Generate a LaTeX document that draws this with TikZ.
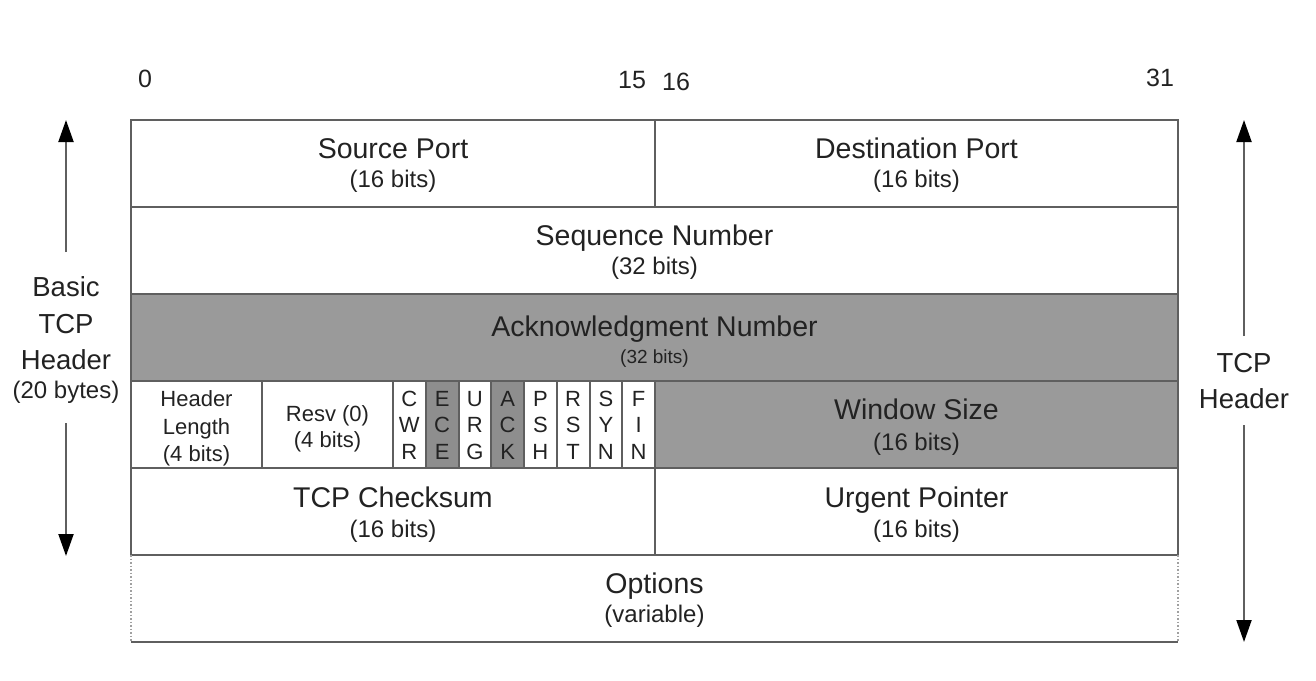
\documentclass[tikz,border=0pt]{standalone}
\usepackage{fontspec}
\setmainfont{Liberation Sans}
\usetikzlibrary{arrows.meta}
\definecolor{linec}{RGB}{95,95,95}
\definecolor{dotc}{RGB}{160,160,160}
\definecolor{fillc}{RGB}{154,154,154}
\definecolor{flagc}{RGB}{142,142,142}
\definecolor{txt}{RGB}{34,34,34}
\tikzset{
  grid/.style={draw=linec, line width=2pt},
  dotgrid/.style={draw=dotc, line width=1.5pt, dotted},
  big/.style={font=\fontsize{28.5}{34}\selectfont, text=txt, inner sep=0pt, anchor=base},
  sub/.style={font=\fontsize{24}{28}\selectfont, text=txt, inner sep=0pt, anchor=base},
  tinysub/.style={font=\fontsize{19}{22}\selectfont, text=txt, inner sep=0pt, anchor=base},
  small/.style={font=\fontsize{22}{26}\selectfont, text=txt, inner sep=0pt, anchor=base},
  side/.style={font=\fontsize{27.5}{32}\selectfont, text=txt, inner sep=0pt, anchor=base},
  num/.style={font=\fontsize{25}{30}\selectfont, text=txt, inner sep=0pt, anchor=base},
  arr/.style={draw=linec, line width=2pt, -{Triangle[length=22pt,width=15pt,color=black]}}
}
\begin{document}
\begin{tikzpicture}[x=1pt,y=-1pt]
\useasboundingbox (0,0) rectangle (1316,680);
% fills
\fill[fillc] (131,294) rectangle (1178,381);
\fill[fillc] (655,381) rectangle (1178,468);
\fill[flagc] (425.75,381) rectangle (458.5,468);
\fill[flagc] (491.25,381) rectangle (524,468);
% grid
\draw[grid] (131,120) rectangle (1178,555);
\foreach \yy in {207,294,381,468} \draw[grid] (131,\yy) -- (1178,\yy);
\draw[grid] (655,120) -- (655,207);
\draw[grid] (655,381) -- (655,555);
\draw[grid] (262,381) -- (262,468);
\foreach \k in {0,...,7} \draw[grid] ({393+32.75*\k},381) -- ({393+32.75*\k},468);
% options
\draw[dotgrid] (131,555) -- (131,642);
\draw[dotgrid] (1178,555) -- (1178,642);
\draw[grid] (131,642) -- (1178,642);
% bit numbers
\node[num] (n0) at (145,87) {0};
\node[num] (n15) at (632,88) {15};
\node[num] (n16) at (676,90) {16};
\node[num] (n31) at (1160,86) {31};
% row texts
\node[big] (sp) at (393,158.5) {Source Port};
\node[sub] (sps) at (393,187) {(16 bits)};
\node[big] (dp) at (916.5,158.5) {Destination Port};
\node[sub] (dps) at (916.5,187) {(16 bits)};
\node[big] (sn) at (654.5,245.5) {Sequence Number};
\node[sub] (sns) at (654.5,274) {(32 bits)};
\node[big] (an) at (654.5,336) {Acknowledgment Number};
\node[tinysub] (ans) at (654.5,363) {(32 bits)};
\node[small] (hl1) at (196.5,406.5) {Header};
\node[small] (hl2) at (196.5,434.5) {Length};
\node[small] (hl3) at (196.5,461) {(4 bits)};
\node[small] (rv1) at (327.5,421.5) {Resv (0)};
\node[small] (rv2) at (327.5,447) {(4 bits)};
\foreach \k/\a/\b/\c in {0/C/W/R,1/E/C/E,2/U/R/G,3/A/C/K,4/P/S/H,5/R/S/T,6/S/Y/N,7/F/I/N}{
  \node[small] (fa\k) at ({409.375+32.75*\k},406) {\a};
  \node[small] (fb\k) at ({409.375+32.75*\k},432.5) {\b};
  \node[small] (fc\k) at ({409.375+32.75*\k},459) {\c};
}
\node[big] (ws) at (916.5,419.5) {Window Size};
\node[sub] (wss) at (916.5,450) {(16 bits)};
\node[big] (cs) at (393,507.5) {TCP Checksum};
\node[sub] (css) at (393,537) {(16 bits)};
\node[big] (up) at (916.5,507.5) {Urgent Pointer};
\node[sub] (ups) at (916.5,537) {(16 bits)};
\node[big] (op) at (654.5,593) {Options};
\node[sub] (ops) at (654.5,622) {(variable)};
% side labels
\node[side] (b1) at (66,296) {Basic};
\node[side] (b2) at (66,333) {TCP};
\node[side] (b3) at (66,369) {Header};
\node[sub] (b4) at (66,398) {(20 bytes)};
\node[side] (t1) at (1244,372) {TCP};
\node[side] (t2) at (1244,408) {Header};
% arrows
\coordinate (la) at (66,252);
\coordinate (lat) at (66,120);
\coordinate (lb) at (66,423);
\coordinate (lbt) at (66,556);
\coordinate (ra) at (1244,336);
\coordinate (rat) at (1244,120);
\coordinate (rb) at (1244,425);
\coordinate (rbt) at (1244,642);
\draw[arr] (la) -- (lat);
\draw[arr] (lb) -- (lbt);
\draw[arr] (ra) -- (rat);
\draw[arr] (rb) -- (rbt);
\end{tikzpicture}
\end{document}
